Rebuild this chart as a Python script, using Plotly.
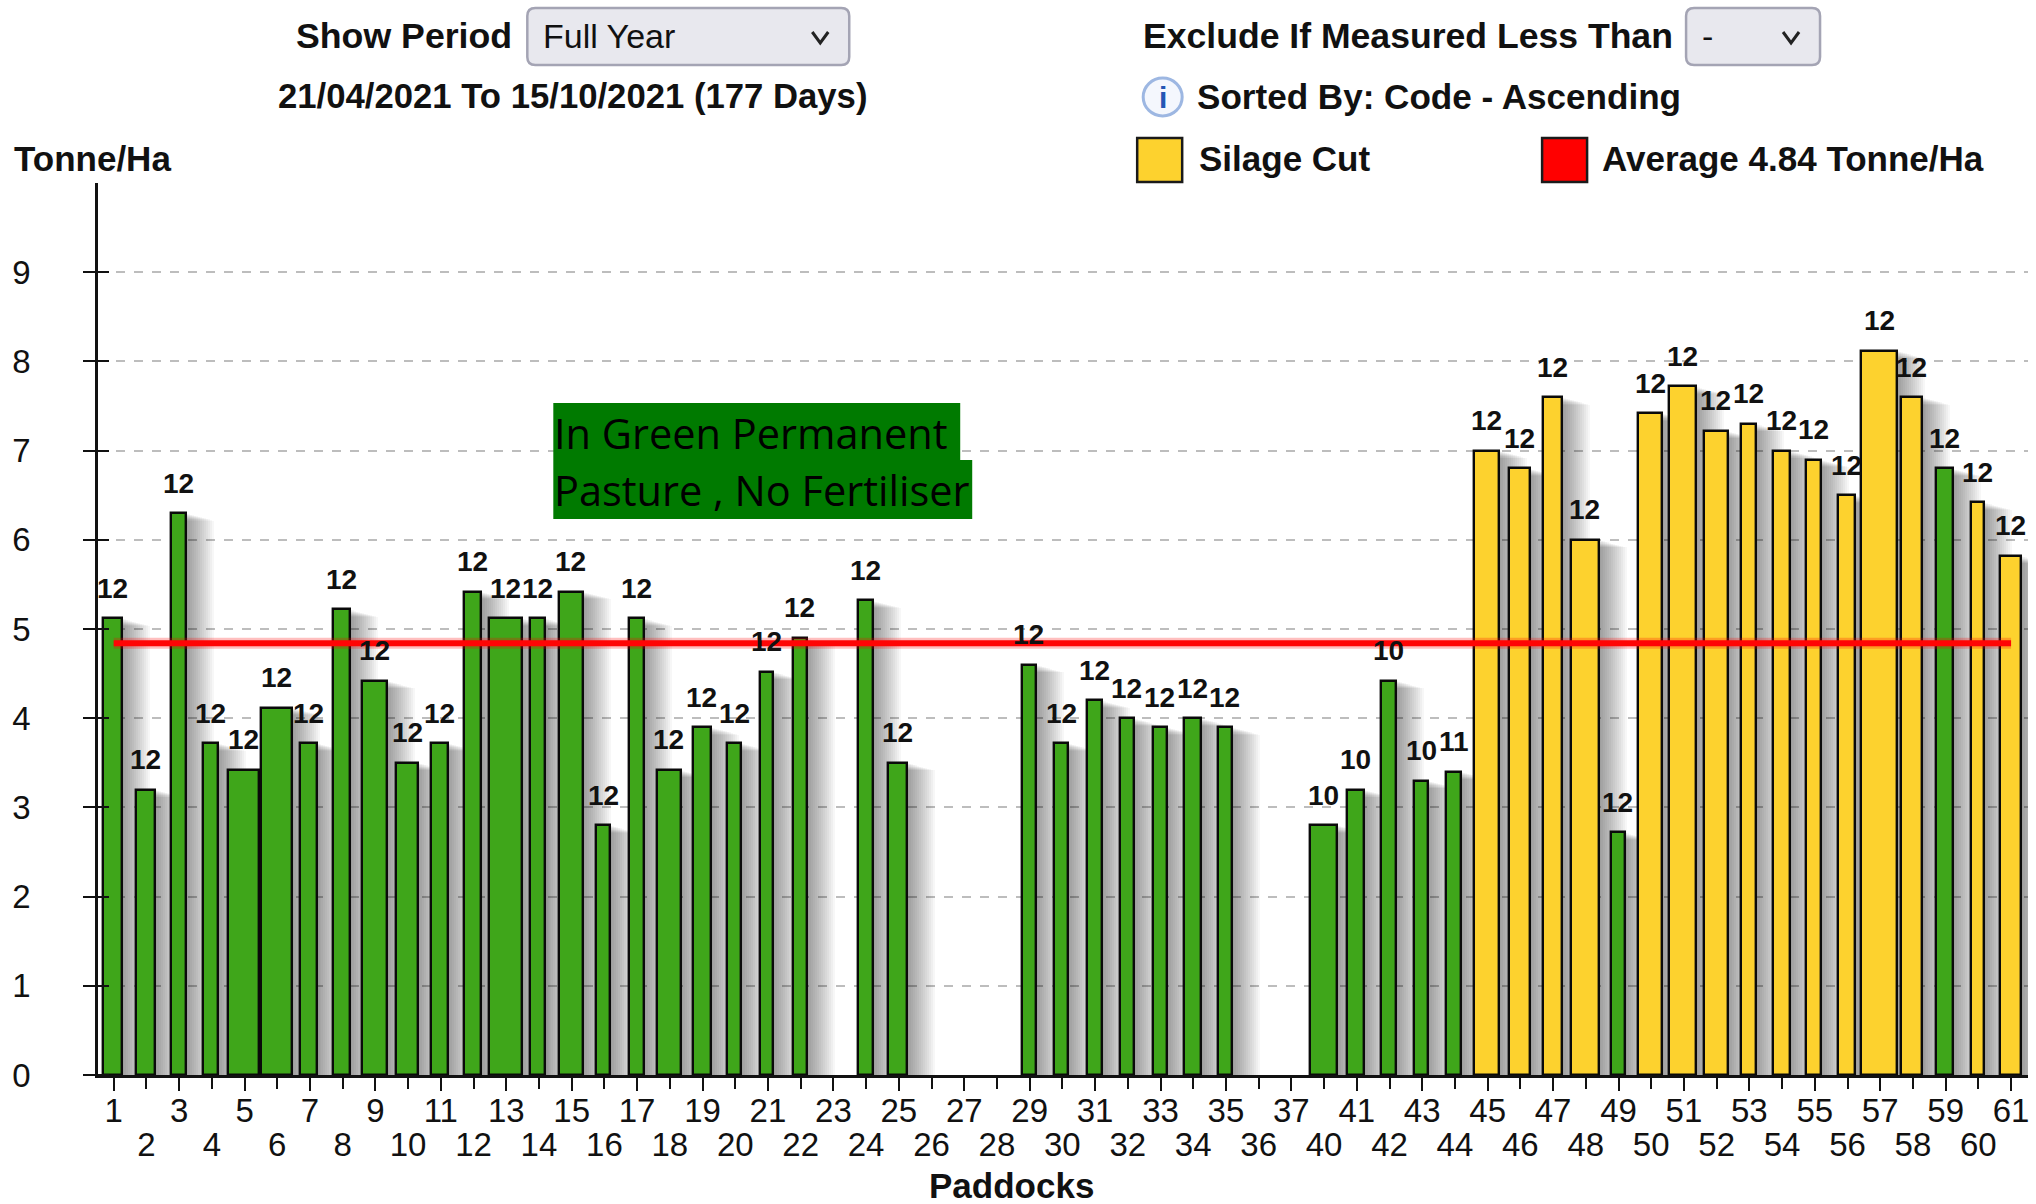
import plotly.graph_objects as go

# ---------- data ----------
paddocks = list(range(1, 38)) + list(range(40, 62))
tonnes = [5.12, 3.2, 6.3, 3.72, 3.42, 4.12, 3.72, 5.22, 4.42, 3.5, 3.72, 5.42, 5.12, 5.12, 5.42, 2.8, 5.12, 3.42, 3.9, 3.72,
          4.52, 4.9, None, 5.32, 3.5, None, None, None, 4.6, 3.72, 4.2, 4.0, 3.9, 4.0, 3.9, None, None,
          2.8, 3.2, 4.42, 3.3, 3.4, 7.0, 6.8, 7.6, 6.0, 2.72, 7.42, 7.72, 7.22, 7.3, 7.0, 6.9, 6.5, 8.12, 7.6,
          6.8, 6.42, 5.82]
counts = [12] * 22 + [None, 12, 12, None, None, None, 12, 12, 12, 12, 12, 12, 12, None, None,
          10, 10, 10, 10, 11] + [12] * 17
silage = [45, 46, 47, 48, 50, 51, 52, 53, 54, 55, 56, 57, 58, 60, 61]
average = 4.84
y_ticks = list(range(10))

# ---------- style ----------
bar_px = [19, 19, 15, 15, 31, 31, 17, 17, 25, 22, 17, 17, 33, 15, 24, 14, 15, 24, 18, 14, 13, 14, 15, 15, 19,
          15, 15, 15, 14, 14, 15, 14, 14, 17, 14, 15, 15,
          27, 17, 15, 14, 15, 25, 21, 19, 28, 14, 24, 27, 24, 15, 17, 15, 17, 36, 21, 17, 13, 21]
GREEN, YELLOW = "#3fa61a", "#fdd22e"
FONT = "Liberation Sans"
TXT = "#111111"
L, R, T, B = 97.6, 2028.0, 183.0, 1075.0
FIRST, STEP = 113.3, 32.72
NUDGE = -1.0 / STEP  # bars sit about a pixel left of their ticks


def px(x):
    return (x - L) / (R - L)


def py(y):
    return (B - y) / (B - T)


idx = list(range(len(paddocks)))
bar_x = [i + NUDGE for i in idx]
widths = [w / STEP for w in bar_px]
colors = [YELLOW if p in silage else GREEN for p in paddocks]

fig = go.Figure()

# soft shadows to the right of each bar
for d in range(2, 29, 2):
    right = [i + w / 2 + d / STEP for i, w in zip(bar_x, widths)]
    fig.add_trace(go.Bar(
        x=[(i + r) / 2 for i, r in zip(bar_x, right)],
        y=[None if v is None else max(v - d * 0.003, 0) for v in tonnes],
        width=[r - i for i, r in zip(bar_x, right)],
        marker=dict(color="rgba(0,0,0,0.03)", line_width=0),
        hoverinfo="skip", showlegend=False))

fig.add_trace(go.Bar(
    x=bar_x, y=tonnes, width=widths,
    marker=dict(color=colors, line=dict(color="#0a0a0a", width=2.4)),
    showlegend=False))

# average line
fig.add_trace(go.Scatter(x=[idx[0], idx[-1]], y=[average, average], mode="lines",
                         line=dict(color="rgba(255,0,0,0.25)", width=11), showlegend=False, hoverinfo="skip"))
fig.add_trace(go.Scatter(x=[idx[0], idx[-1]], y=[average, average], mode="lines",
                         line=dict(color="#ff0505", width=6), showlegend=False, hoverinfo="skip"))

# invisible trace that keeps the second-row tick axis alive
fig.add_trace(go.Scatter(x=idx, y=[0] * len(idx), xaxis="x2", yaxis="y", mode="markers",
                         marker=dict(opacity=0), showlegend=False, hoverinfo="skip"))

annotations = []
for i, v, c in zip(bar_x, tonnes, counts):
    if v is not None:
        annotations.append(dict(x=i, y=v, xref="x", yref="y", text=f"<b>{c}</b>", showarrow=False,
                                yanchor="middle", yshift=30, font=dict(family=FONT, size=28, color=TXT)))


def label(text, x, y, anchor="left", size=35, color=TXT, bold=True):
    annotations.append(dict(x=px(x), y=py(y), xref="paper", yref="paper", showarrow=False,
                            xanchor=anchor, yanchor="middle",
                            text=f"<b>{text}</b>" if bold else text,
                            font=dict(family=FONT, size=size, color=color)))


label("Show Period", 514, 36, "right", 35.7)
label("Full Year", 541, 36, "left", 34, bold=False)
label("21/04/2021 To 15/10/2021 (177 Days)", 276, 96, "left", 34.7)
label("Exclude If Measured Less Than", 1141, 36, "left", 35.6)
label("-", 1700, 36, "left", 34, bold=False)
label("Sorted By: Code - Ascending", 1195, 96, "left", 35.1)
label("Silage Cut", 1197, 159, "left")
label("Average 4.84 Tonne/Ha", 1600, 159, "left")
label("Tonne/Ha", 12, 159, "left")
label("Paddocks", 1011, 1185, "center", 35)
label("i", 1163, 97, "center", 30, "#2456b4")
label("In Green Permanent", 552, 433, "left", 41.5, "#000000", bold=False)
label("Pasture , No Fertiliser", 552, 490, "left", 41.5, "#000000", bold=False)
for a in annotations[-2:]:
    a["font"]["family"] = "Open Sans"


def rect(x0, y0, x1, y1, fill, line=None, lw=0):
    return dict(type="rect", xref="paper", yref="paper", x0=px(x0), x1=px(x1), y0=py(y0), y1=py(y1),
                fillcolor=fill, line=dict(color=line or fill, width=lw), layer="above")


def rounded(x0, y0, x1, y1, r=8):
    X = lambda v: px(v)
    Y = lambda v: py(v)
    path = (f"M {X(x0 + r)} {Y(y0)} L {X(x1 - r)} {Y(y0)} Q {X(x1)} {Y(y0)} {X(x1)} {Y(y0 + r)} "
            f"L {X(x1)} {Y(y1 - r)} Q {X(x1)} {Y(y1)} {X(x1 - r)} {Y(y1)} "
            f"L {X(x0 + r)} {Y(y1)} Q {X(x0)} {Y(y1)} {X(x0)} {Y(y1 - r)} "
            f"L {X(x0)} {Y(y0 + r)} Q {X(x0)} {Y(y0)} {X(x0 + r)} {Y(y0)} Z")
    return dict(type="path", xref="paper", yref="paper", path=path, fillcolor="#e8e8ee",
                line=dict(color="#a4a4b4", width=2.5), layer="above")


def chevron(cx, cy):
    path = f"M {px(cx - 8)} {py(cy - 5)} L {px(cx)} {py(cy + 6)} L {px(cx + 8)} {py(cy - 5)}"
    return dict(type="path", xref="paper", yref="paper", path=path,
                line=dict(color="#222222", width=3), layer="above")


shapes = [
    rounded(527, 8, 849, 65), chevron(820, 37),
    rounded(1686, 8, 1820, 65), chevron(1791, 37),
    dict(type="circle", xref="paper", yref="paper", x0=px(1143), x1=px(1182), y0=py(78), y1=py(116),
         fillcolor="#f4f7fd", line=dict(color="#9db7e2", width=3), layer="above"),
    rect(1137, 138, 1182, 182, YELLOW, "#1a1a1a", 2.5),
    rect(1542, 138, 1587, 182, "#ff0000", "#1a1a1a", 2.5),
    rect(553, 403, 960, 460, "#007a00"),
    rect(553, 460, 972, 519, "#007a00"),
]

x_range = [(L - FIRST) / STEP, (R - FIRST) / STEP]
odd = idx[0::2]
even = idx[1::2]
tick_font = dict(family=FONT, size=33, color=TXT)

fig.update_layout(
    width=2036, height=1204, autosize=False,
    margin=dict(l=L, r=2036 - R, t=T, b=1204 - B, pad=0),
    paper_bgcolor="white", plot_bgcolor="white",
    barmode="overlay", bargap=0,
    font=dict(family=FONT, color=TXT),
    annotations=annotations, shapes=shapes,
    xaxis=dict(range=x_range, tickmode="array", tickvals=odd, ticktext=[str(paddocks[i]) for i in odd],
               ticks="outside", ticklen=13, tickwidth=2, tickcolor="#111111",
               showline=True, linecolor="#111111", linewidth=2.5, showgrid=False, zeroline=False,
               tickfont=tick_font, ticklabelstandoff=-8, fixedrange=True),
    xaxis2=dict(range=x_range, overlaying="x", side="bottom", anchor="y", tickmode="array",
                tickvals=even, ticktext=[str(paddocks[i]) for i in even],
                ticks="outside", ticklen=13, tickwidth=2, tickcolor="#111111",
                showline=False, showgrid=False, zeroline=False,
                tickfont=tick_font, ticklabelstandoff=27, fixedrange=True),
    yaxis=dict(range=[0, 10], tickmode="array", tickvals=y_ticks, ticktext=[str(v) for v in y_ticks],
               ticks="outside", ticklen=12, tickwidth=2, tickcolor="#111111",
               showline=True, linecolor="#111111", linewidth=2.5,
               showgrid=True, gridcolor="#bdbdbd", griddash="dash", gridwidth=1.5, zeroline=False,
               tickfont=tick_font, ticklabelstandoff=46, fixedrange=True,
               minor=dict(tickmode="array", tickvals=y_ticks, ticks="inside", ticklen=11, tickwidth=2,
                          tickcolor="#111111", showgrid=False)),
)

fig.write_html("out.html", post_script="document.body.style.margin='0';",
               config={"displayModeBar": False})
